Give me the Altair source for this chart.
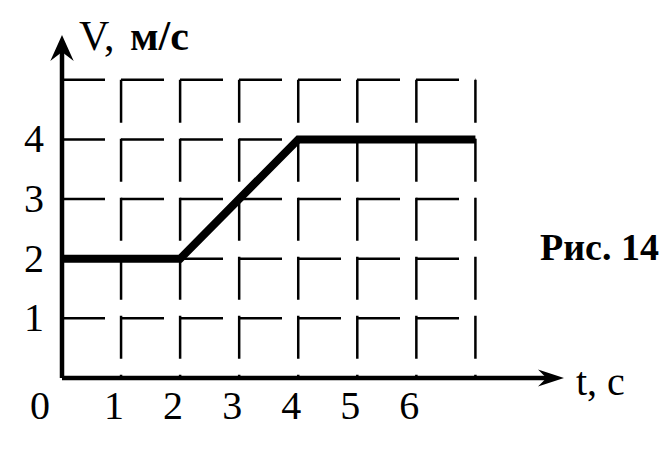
import altair as alt
import pandas as pd

# Data
t_pts = [0, 2, 4, 7]
v_pts = [2, 2, 4, 4]
x_ticks = [1, 2, 3, 4, 5, 6]
y_ticks = [1, 2, 3, 4]
grid_x = [1, 2, 3, 4, 5, 6, 7]
grid_y = [1, 2, 3, 4, 5]

X_MAX = 8.5
Y_MAX = 5.75
FONT = "Liberation Serif"

xs = alt.Scale(domain=[0, X_MAX], nice=False, zero=False)
ys = alt.Scale(domain=[0, Y_MAX], nice=False, zero=False)

line_df = pd.DataFrame({"x": t_pts, "y": v_pts})
gx_df = pd.DataFrame({"x": grid_x, "y": [5] * len(grid_x), "y2": [0] * len(grid_x)})
gy_df = pd.DataFrame({"y": grid_y, "x": [0] * len(grid_y), "x2": [7] * len(grid_y)})
xt_df = pd.DataFrame({"x": x_ticks, "y": [0] * len(x_ticks), "lab": [str(v) for v in x_ticks]})
yt_df = pd.DataFrame({"y": y_ticks, "x": [0] * len(y_ticks), "lab": [str(v) for v in y_ticks]})
xax_df = pd.DataFrame({"x": [0], "x2": [X_MAX - 0.2], "y": [0]})
yax_df = pd.DataFrame({"x": [0], "y": [0], "y2": [Y_MAX - 0.2]})
xhead_df = pd.DataFrame({"x": [X_MAX], "y": [0]})
yhead_df = pd.DataFrame({"x": [0], "y": [Y_MAX]})
zero_df = pd.DataFrame({"x": [0], "y": [0], "lab": ["0"]})
ytitle_a_df = pd.DataFrame({"x": [0], "y": [Y_MAX], "lab": ["V,"]})
ytitle_b_df = pd.DataFrame({"x": [0], "y": [Y_MAX], "lab": ["м/с"]})
xtitle_df = pd.DataFrame({"x": [X_MAX], "y": [0], "lab": ["t, с"]})
fig_df = pd.DataFrame({"x": [X_MAX], "y": [2], "lab": ["Рис. 14"]})

X = alt.X("x:Q", scale=xs, axis=None)
Y = alt.Y("y:Q", scale=ys, axis=None)

dash = [43, 16]

vgrid = alt.Chart(gx_df).mark_rule(color="black", strokeWidth=2.5, strokeDash=dash).encode(
    x=X, y=Y, y2="y2:Q"
)
hgrid = alt.Chart(gy_df).mark_rule(color="black", strokeWidth=2.5, strokeDash=dash).encode(
    x=X, x2="x2:Q", y=Y
)
xaxis = alt.Chart(xax_df).mark_rule(color="black", strokeWidth=4.5).encode(x=X, x2="x2:Q", y=Y)
yaxis = alt.Chart(yax_df).mark_rule(color="black", strokeWidth=4.5).encode(x=X, y=Y, y2="y2:Q")

arrow_right = "M0,0 L-2,-0.65 L-1.35,0 L-2,0.65 Z"
arrow_up = "M0,0 L-0.9,2 L0,1.3 L0.9,2 Z"

xhead = alt.Chart(xhead_df).mark_point(shape=arrow_right, filled=True, color="black", size=676, opacity=1).encode(x=X, y=Y)
yhead = alt.Chart(yhead_df).mark_point(shape=arrow_up, filled=True, color="black", size=676, opacity=1).encode(x=X, y=Y)

vline = alt.Chart(line_df).mark_line(color="black", strokeWidth=8, strokeCap="butt", strokeJoin="miter").encode(x=X, y=Y)

xlabels = alt.Chart(xt_df).mark_text(font=FONT, fontSize=40, color="black", dx=-7, dy=29, baseline="middle", align="center").encode(
    x=X, y=Y, text="lab:N"
)
zero_label = alt.Chart(zero_df).mark_text(font=FONT, fontSize=40, color="black", dx=-22, dy=29, baseline="middle", align="center").encode(
    x=X, y=Y, text="lab:N"
)
ylabels = alt.Chart(yt_df).mark_text(font=FONT, fontSize=40, color="black", dx=-28, dy=1, baseline="middle", align="center").encode(
    x=X, y=Y, text="lab:N"
)
ytitle_a = alt.Chart(ytitle_a_df).mark_text(font=FONT, fontSize=42, color="black", dx=17, dy=15, align="left", baseline="alphabetic").encode(
    x=X, y=Y, text="lab:N"
)
ytitle_b = alt.Chart(ytitle_b_df).mark_text(font=FONT, fontSize=42, fontWeight="bold", color="black", dx=68, dy=15, align="left", baseline="alphabetic").encode(
    x=X, y=Y, text="lab:N"
)
xtitle = alt.Chart(xtitle_df).mark_text(font=FONT, fontSize=40, color="black", dx=12, dy=17, align="left", baseline="alphabetic").encode(
    x=X, y=Y, text="lab:N"
)
fig = alt.Chart(fig_df).mark_text(font=FONT, fontSize=38, fontWeight="bold", color="black", dx=95, dy=1, align="right", baseline="alphabetic").encode(
    x=X, y=Y, text="lab:N"
)

chart = alt.layer(
    vgrid, hgrid, xaxis, yaxis, xhead, yhead, vline,
    xlabels, zero_label, ylabels, ytitle_a, ytitle_b, xtitle, fig
).properties(
    width=502, height=343,
    padding={"left": 54, "top": 27, "right": 98, "bottom": 72},
    autosize=alt.AutoSizeParams(type="none"),
    background="white",
).configure_view(stroke=None)

chart.save("out.html", embed_options={"renderer": "svg", "actions": False})
